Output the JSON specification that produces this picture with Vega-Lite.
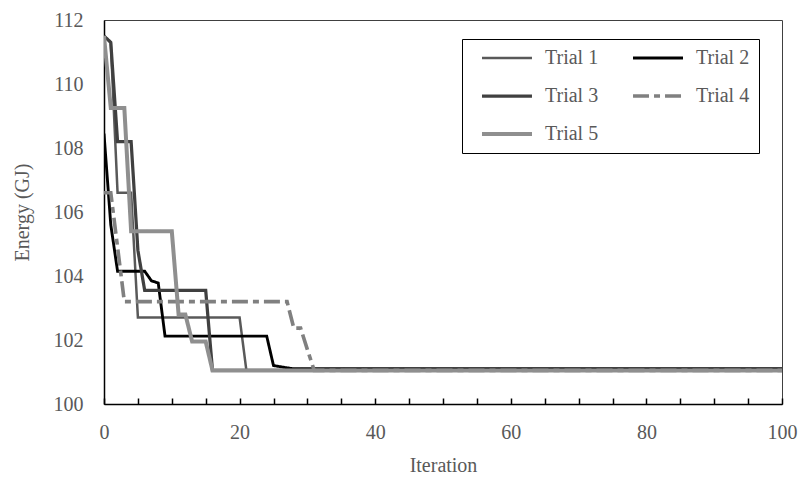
{
  "$schema": "https://vega.github.io/schema/vega-lite/v6.json",
  "width": 678,
  "height": 384,
  "autosize": {"type": "none"},
  "padding": {"left": 104, "top": 20, "right": 23, "bottom": 75},
  "background": "white",
  "config": {"view": {"stroke": "#404040", "strokeWidth": 1}, "font": "Liberation Serif"},
  "data": {
    "values": [
      {"trial": "Trial 1", "iteration": 0, "energy": 111.5},
      {"trial": "Trial 1", "iteration": 1, "energy": 111.3},
      {"trial": "Trial 1", "iteration": 2, "energy": 106.6},
      {"trial": "Trial 1", "iteration": 4, "energy": 106.6},
      {"trial": "Trial 1", "iteration": 5, "energy": 102.7},
      {"trial": "Trial 1", "iteration": 20, "energy": 102.7},
      {"trial": "Trial 1", "iteration": 21, "energy": 101.05},
      {"trial": "Trial 1", "iteration": 100, "energy": 101.05},
      {"trial": "Trial 2", "iteration": 0, "energy": 108.45},
      {"trial": "Trial 2", "iteration": 1, "energy": 105.6},
      {"trial": "Trial 2", "iteration": 2, "energy": 104.15},
      {"trial": "Trial 2", "iteration": 6, "energy": 104.15},
      {"trial": "Trial 2", "iteration": 7, "energy": 103.85},
      {"trial": "Trial 2", "iteration": 8, "energy": 103.78},
      {"trial": "Trial 2", "iteration": 9, "energy": 102.12},
      {"trial": "Trial 2", "iteration": 24, "energy": 102.12},
      {"trial": "Trial 2", "iteration": 25, "energy": 101.2},
      {"trial": "Trial 2", "iteration": 27, "energy": 101.13},
      {"trial": "Trial 2", "iteration": 28, "energy": 101.1},
      {"trial": "Trial 2", "iteration": 100, "energy": 101.1},
      {"trial": "Trial 3", "iteration": 0, "energy": 111.5},
      {"trial": "Trial 3", "iteration": 1, "energy": 111.3},
      {"trial": "Trial 3", "iteration": 2, "energy": 108.2},
      {"trial": "Trial 3", "iteration": 4, "energy": 108.2},
      {"trial": "Trial 3", "iteration": 5, "energy": 104.8},
      {"trial": "Trial 3", "iteration": 6, "energy": 103.55},
      {"trial": "Trial 3", "iteration": 15, "energy": 103.55},
      {"trial": "Trial 3", "iteration": 16, "energy": 101.05},
      {"trial": "Trial 3", "iteration": 100, "energy": 101.05},
      {"trial": "Trial 4", "iteration": 0, "energy": 106.6},
      {"trial": "Trial 4", "iteration": 1, "energy": 106.6},
      {"trial": "Trial 4", "iteration": 2, "energy": 104.9},
      {"trial": "Trial 4", "iteration": 3, "energy": 103.2},
      {"trial": "Trial 4", "iteration": 27, "energy": 103.2},
      {"trial": "Trial 4", "iteration": 28, "energy": 102.37},
      {"trial": "Trial 4", "iteration": 29, "energy": 102.37},
      {"trial": "Trial 4", "iteration": 30, "energy": 101.7},
      {"trial": "Trial 4", "iteration": 31, "energy": 101.05},
      {"trial": "Trial 4", "iteration": 100, "energy": 101.05},
      {"trial": "Trial 5", "iteration": 0, "energy": 111.5},
      {"trial": "Trial 5", "iteration": 1, "energy": 109.25},
      {"trial": "Trial 5", "iteration": 3, "energy": 109.25},
      {"trial": "Trial 5", "iteration": 4, "energy": 105.4},
      {"trial": "Trial 5", "iteration": 10, "energy": 105.4},
      {"trial": "Trial 5", "iteration": 11, "energy": 102.8},
      {"trial": "Trial 5", "iteration": 12, "energy": 102.8},
      {"trial": "Trial 5", "iteration": 13, "energy": 101.95},
      {"trial": "Trial 5", "iteration": 15, "energy": 101.95},
      {"trial": "Trial 5", "iteration": 16, "energy": 101.05},
      {"trial": "Trial 5", "iteration": 100, "energy": 101.05}
    ]
  },
  "mark": {"type": "line", "interpolate": "linear", "clip": true},
  "encoding": {
    "x": {
      "field": "iteration",
      "type": "quantitative",
      "scale": {"domain": [0, 100], "nice": false},
      "axis": {
        "title": "Iteration",
        "values": [0, 5, 10, 15, 20, 25, 30, 35, 40, 45, 50, 55, 60, 65, 70, 75, 80, 85, 90, 95, 100],
        "labelExpr": "datum.value % 20 === 0 ? datum.label : ''",
        "labelOverlap": false,
        "labelFlush": false,
        "grid": false,
        "tickSize": -6,
        "tickColor": "black",
        "tickWidth": 1.5,
        "domainColor": "black",
        "domainWidth": 1.5,
        "labelFont": "Liberation Serif",
        "labelFontSize": 20,
        "labelColor": "#595959",
        "labelPadding": 24,
        "titleFont": "Liberation Serif",
        "titleFontSize": 20,
        "titleFontWeight": "normal",
        "titleColor": "#595959",
        "titlePadding": 13
      }
    },
    "y": {
      "field": "energy",
      "type": "quantitative",
      "scale": {"domain": [100, 112], "nice": false, "zero": false},
      "axis": {
        "title": "Energy (GJ)",
        "values": [100, 102, 104, 106, 108, 110, 112],
        "labelOverlap": false,
        "labelFlush": false,
        "grid": false,
        "ticks": false,
        "domainColor": "black",
        "domainWidth": 1.5,
        "labelFont": "Liberation Serif",
        "labelFontSize": 20,
        "labelColor": "#595959",
        "labelPadding": 21,
        "titleFont": "Liberation Serif",
        "titleFontSize": 20,
        "titleFontWeight": "normal",
        "titleColor": "#595959",
        "titlePadding": 21
      }
    },
    "color": {
      "field": "trial",
      "type": "nominal",
      "scale": {
        "domain": ["Trial 1", "Trial 2", "Trial 3", "Trial 4", "Trial 5"],
        "range": ["#595959", "#000000", "#404040", "#808080", "#8f8f8f"]
      },
      "legend": {
        "orient": "none",
        "legendX": 358,
        "legendY": 19,
        "direction": "horizontal",
        "columns": 2,
        "title": null,
        "symbolType": "M-4,0H4",
        "symbolSize": 156,
        "labelFont": "Liberation Serif",
        "labelFontSize": 20,
        "labelColor": "#595959",
        "labelOffset": 28,
        "labelLimit": 0,
        "columnPadding": 23,
        "rowPadding": 18,
        "padding": 9,
        "symbolOffset": 26,
        "strokeColor": "black",
        "fillColor": "white"
      }
    },
    "strokeDash": {
      "field": "trial",
      "type": "nominal",
      "scale": {
        "domain": ["Trial 1", "Trial 2", "Trial 3", "Trial 4", "Trial 5"],
        "range": [[1, 0], [1, 0], [1, 0], [16, 5, 6, 5], [1, 0]]
      }
    },
    "strokeWidth": {
      "field": "trial",
      "type": "nominal",
      "scale": {
        "domain": ["Trial 1", "Trial 2", "Trial 3", "Trial 4", "Trial 5"],
        "range": [2.5, 4, 2.5, 2.5, 2.5]
      }
    }
  }
}
